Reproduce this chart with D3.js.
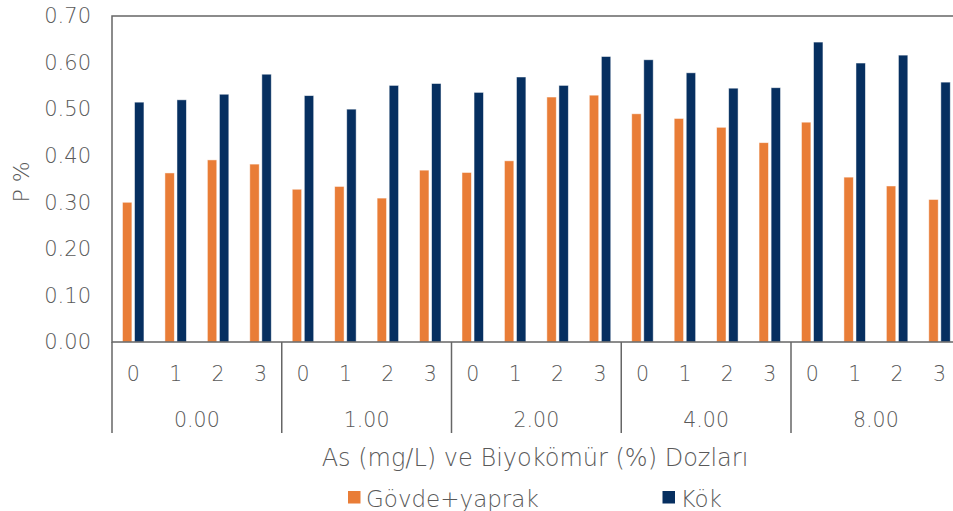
<!DOCTYPE html>
<html>
<head>
<meta charset="utf-8">
<script src="https://cdn.jsdelivr.net/npm/d3@7/dist/d3.min.js"></script>
<style>
  html, body { margin: 0; padding: 0; background: #fff; }
  svg text { font-family: "DejaVu Sans", sans-serif; font-weight: 300; fill: #595959; }
</style>
</head>
<body>
<svg id="chart" width="953" height="511"></svg>
<script>
// As doses (mg/L) and biochar doses (%)
const asDoses = ["0.00", "1.00", "2.00", "4.00", "8.00"];
const biocharDoses = ["0", "1", "2", "3"];
const seriesNames = ["Gövde+yaprak", "Kök"];
const seriesColors = ["#E97D37", "#062F60"];

// P % in shoot+leaf, per As dose then biochar dose
const govdeYaprak = [
  0.300, 0.363, 0.391, 0.382,
  0.328, 0.334, 0.309, 0.369,
  0.364, 0.389, 0.526, 0.530,
  0.490, 0.480, 0.461, 0.428,
  0.472, 0.354, 0.335, 0.306
];
// P % in root
const kok = [
  0.515, 0.520, 0.532, 0.575,
  0.529, 0.500, 0.551, 0.555,
  0.536, 0.569, 0.551, 0.613,
  0.606, 0.578, 0.545, 0.546,
  0.644, 0.599, 0.616, 0.558
];
const yTicks = [0, 0.1, 0.2, 0.3, 0.4, 0.5, 0.6, 0.7];

const svg = d3.select("#chart");
const plotLeft = 112, plotTop = 16, plotBottom = 342, plotRight = 960.75;
const groupLabelBottom = 433;

const x0 = d3.scaleBand().domain(asDoses).range([plotLeft, plotRight]).padding(0);
const x1 = d3.scaleBand().domain(biocharDoses).range([0, x0.bandwidth()]).padding(0);
const x2 = d3.scaleBand().domain(seriesNames).range([0, x1.bandwidth()])
  .paddingInner(0.22).paddingOuter(0.87);
const y = d3.scaleLinear().domain([0, 0.7]).range([plotBottom, plotTop]);

const rows = [];
asDoses.forEach((g, gi) => {
  biocharDoses.forEach((c, ci) => {
    const i = gi * biocharDoses.length + ci;
    rows.push({ g, c, values: [govdeYaprak[i], kok[i]] });
  });
});

// Bars
const barLayer = svg.append("g");
rows.forEach(r => {
  r.values.forEach((v, si) => {
    const xPos = x0(r.g) + x1(r.c) + x2(seriesNames[si]);
    barLayer.append("rect")
      .attr("x", xPos)
      .attr("y", y(v))
      .attr("width", x2.bandwidth())
      .attr("height", y(0) - y(v))
      .attr("fill", seriesColors[si])
      .attr("stroke", "rgba(255,255,255,0.6)")
      .attr("stroke-width", 0.8);
  });
});

// Plot frame
svg.append("rect")
  .attr("x", plotLeft).attr("y", plotTop)
  .attr("width", plotRight - plotLeft).attr("height", plotBottom - plotTop)
  .attr("fill", "none").attr("stroke", "#666").attr("stroke-width", 1.5);

// Y axis labels
const yAxis = d3.axisLeft(y).tickValues(yTicks).tickFormat(d3.format(".2f")).tickSize(0).tickPadding(21);
const yg = svg.append("g").attr("transform", `translate(${plotLeft},0)`).call(yAxis);
yg.select(".domain").remove();
yg.selectAll("text")
  .style("font-size", "21px")
  .style("font-family", "DejaVu Sans, sans-serif")
  .style("font-weight", "300")
  .style("fill", "#595959");

// Category axis: group separators
const sepX = asDoses.map(g => x0(g)).concat([plotRight]);
svg.append("g").selectAll("line").data(sepX).join("line")
  .attr("x1", d => d).attr("x2", d => d)
  .attr("y1", plotBottom).attr("y2", groupLabelBottom)
  .attr("stroke", "#666").attr("stroke-width", 1.5);

// Biochar labels
const catLabels = svg.append("g");
asDoses.forEach(g => {
  biocharDoses.forEach(c => {
    catLabels.append("text")
      .attr("x", x0(g) + x1(c) + x1.bandwidth() / 2)
      .attr("y", 381)
      .attr("text-anchor", "middle")
      .style("font-size", "20.5px")
      .text(c);
  });
});

// As dose labels
svg.append("g").selectAll("text").data(asDoses).join("text")
  .attr("x", d => x0(d) + x0.bandwidth() / 2)
  .attr("y", 427)
  .attr("text-anchor", "middle")
  .style("font-size", "20.5px")
  .text(d => d);

// Axis titles
svg.append("text")
  .attr("x", 535)
  .attr("y", 466)
  .attr("text-anchor", "middle")
  .style("font-size", "24px")
  .text("As (mg/L) ve Biyokömür (%) Dozları");

svg.append("text")
  .attr("transform", `translate(29,182) rotate(-90)`)
  .attr("text-anchor", "middle")
  .style("font-size", "22px")
  .text("P %");

// Legend
const legendX = [348, 662.5];
const legend = svg.append("g");
seriesNames.forEach((s, i) => {
  legend.append("rect")
    .attr("x", legendX[i]).attr("y", 491)
    .attr("width", 12.5).attr("height", 12.5)
    .attr("fill", seriesColors[i]);
  legend.append("text")
    .attr("x", legendX[i] + 18).attr("y", 507)
    .style("font-size", "23px")
    .text(s);
});
</script>
</body>
</html>
